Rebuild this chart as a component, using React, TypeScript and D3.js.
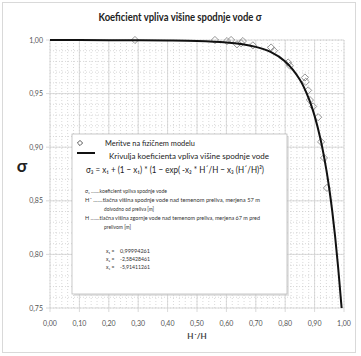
import React from "react";
import * as d3 from "d3";

const W = 361;
const H = 356;

const xTicks = [0, 0.1, 0.2, 0.3, 0.4, 0.5, 0.6, 0.7, 0.8, 0.9, 1.0];
const yTicks = [0.75, 0.8, 0.85, 0.9, 0.95, 1.0];

// measured points (H'/H, sigma)
const measX = [0.289, 0.561, 0.602, 0.616, 0.636, 0.65, 0.656, 0.69, 0.752, 0.762, 0.81, 0.816, 0.867, 0.87, 0.878, 0.884, 0.895, 0.912, 0.922, 0.932, 0.942];
const measY = [1.0, 1.0, 0.999, 1.0, 0.996, 0.997, 0.999, 0.995, 0.993, 0.99, 0.979, 0.976, 0.965, 0.961, 0.953, 0.944, 0.938, 0.928, 0.905, 0.89, 0.862];

// fitted curve
const curveX = [0, 0.1, 0.2, 0.3, 0.4, 0.5, 0.6, 0.65, 0.7, 0.75, 0.8, 0.85, 0.88, 0.9, 0.92, 0.94, 0.95, 0.96, 0.97, 0.98, 0.99, 0.992];
const curveY = [0.99994, 0.99992, 0.99988, 0.99979, 0.99958, 0.99908, 0.9977, 0.99625, 0.9936, 0.9889, 0.98, 0.963, 0.9456, 0.9292, 0.9076, 0.8789, 0.861, 0.8403, 0.8161, 0.788, 0.756, 0.749];

const coefLabels = ["x₁ =", "x₂ =", "x₃ ="];
const coefValues = ["0,99994261", "-2,58428461", "-5,91411261"];

const fmt = (v: number) => v.toFixed(2).replace(".", ",");

export default function App() {
  const x = d3.scaleLinear().domain([0, 1]).range([50, 344]);
  const y = d3.scaleLinear().domain([0.75, 1]).range([308, 40]);

  const minorX = d3.range(0, 1.0001, 0.02);
  const minorY = d3.range(0.75, 1.0001, 0.01);

  const line = d3
    .line<number>()
    .x((_, i) => x(curveX[i]))
    .y((_, i) => y(Math.max(0.75, curveY[i])))
    .curve(d3.curveCatmullRom);

  const diamond = "M0,-3.6L3.6,0L0,3.6L-3.6,0Z";
  const smallDiamond = "M0,-2.6L2.6,0L0,2.6L-2.6,0Z";
  const font = "Lato, 'Open Sans', sans-serif";

  return (
    <div style={{ position: "absolute", left: 0, top: 0 }}>
      <svg width={W} height={H} style={{ display: "block", fontFamily: font }}>
        <rect x={0} y={0} width={W} height={H} fill="#fff" />
        <rect x={2.5} y={2.5} width={353} height={350} fill="#fff" stroke="#d9d9d9" />
        <text x={180} y={21} textAnchor="middle" fontSize={11.5} fontWeight="bold" fill="#222" textLength={163} lengthAdjust="spacingAndGlyphs">
          Koeficient vpliva višine spodnje vode σ
        </text>

        {/* minor grid */}
        {minorX.map((v, i) => (
          <line key={"mx" + i} x1={x(v)} x2={x(v)} y1={y(1)} y2={y(0.75)} stroke="#c8c8c8" strokeWidth={0.7} strokeDasharray="1,2" />
        ))}
        {minorY.map((v, i) => (
          <line key={"my" + i} x1={x(0)} x2={x(1)} y1={y(v)} y2={y(v)} stroke="#c8c8c8" strokeWidth={0.7} strokeDasharray="1,2" />
        ))}
        {/* major grid */}
        {xTicks.map((v, i) => (
          <line key={"gx" + i} x1={x(v)} x2={x(v)} y1={y(1)} y2={y(0.75) + 4} stroke="#d0d0d0" strokeWidth={0.8} />
        ))}
        {yTicks.map((v, i) => (
          <line key={"gy" + i} x1={x(0) - 4} x2={x(1)} y1={y(v)} y2={y(v)} stroke="#d0d0d0" strokeWidth={0.8} />
        ))}

        {/* tick labels */}
        {xTicks.map((v, i) => (
          <text key={"tx" + i} x={x(v)} y={326} textAnchor="middle" fontSize={7} fill="#555">
            {fmt(v)}
          </text>
        ))}
        {yTicks.map((v, i) => (
          <text key={"ty" + i} x={43} y={y(v) + 2.5} textAnchor="end" fontSize={7} fill="#555">
            {fmt(v)}
          </text>
        ))}
        <text x={197} y={339} textAnchor="middle" fontSize={8} fontWeight="bold" fill="#444">
          H´/H
        </text>
        <text x={22} y={172} textAnchor="middle" fontSize={17} fontWeight="bold" fill="#222">
          σ
        </text>

        {/* legend box */}
        <rect x={74} y={136} width={215} height={160} fill="#ccc" opacity={0.5} />
        <rect x={72} y={134} width={215} height={160} fill="#fff" stroke="#bbb" strokeWidth={0.8} />
        <path d={smallDiamond} transform="translate(80,143)" fill="#fff" stroke="#444" strokeWidth={0.9} />
        <text x={105} y={146} fontSize={8} fill="#222" textLength={90} lengthAdjust="spacingAndGlyphs">Meritve na fizičnem modelu</text>
        <line x1={77} x2={95} y1={153} y2={153} stroke="#111" strokeWidth={2} />
        <text x={109} y={159} fontSize={8} fill="#222" textLength={160} lengthAdjust="spacingAndGlyphs">Krivulja koeficienta vpliva višine spodnje vode</text>
        <text x={86} y={173} fontSize={9} fill="#222" textLength={178} lengthAdjust="spacingAndGlyphs">σ₃ = x₁ + (1 − x₁) * (1 − exp( -x₂ * H´/H − x₃ (H´/H)²)</text>

        <text x={85} y={193} fontSize={4.8} fill="#333" textLength={82} lengthAdjust="spacingAndGlyphs">σ₃ .......koeficient vpliva spodnje vode</text>
        <text x={85} y={202} fontSize={4.8} fill="#333" textLength={175} lengthAdjust="spacingAndGlyphs">H´ .......tlačna višina spodnje vode nad temenom preliva, merjena 57 m</text>
        <text x={104} y={211} fontSize={4.8} fill="#333" textLength={50} lengthAdjust="spacingAndGlyphs">dolvodno od preliva [m]</text>
        <text x={85} y={220} fontSize={4.8} fill="#333" textLength={175} lengthAdjust="spacingAndGlyphs">H .......tlačna višina zgornje vode nad temenom preliva, merjena 67 m pred</text>
        <text x={104} y={229} fontSize={4.8} fill="#333" textLength={27} lengthAdjust="spacingAndGlyphs">prelivom [m]</text>
        {coefLabels.map((c, i) => (
          <g key={"c" + i}>
            <text x={106} y={253 + i * 8} fontSize={5} fill="#333">{c}</text>
            <text x={120} y={253 + i * 8} fontSize={5} fill="#333" textLength={30} lengthAdjust="spacingAndGlyphs">{coefValues[i]}</text>
          </g>
        ))}

        {/* measured markers */}
        {measX.map((v, i) => (
          <path key={"m" + i} d={diamond} transform={`translate(${x(v)},${y(measY[i])})`} fill="none" stroke="#8a8a8a" strokeWidth={0.9} />
        ))}
        {/* fitted curve */}
        <path d={line(curveX) || ""} fill="none" stroke="#111" strokeWidth={2} />
      </svg>
    </div>
  );
}
